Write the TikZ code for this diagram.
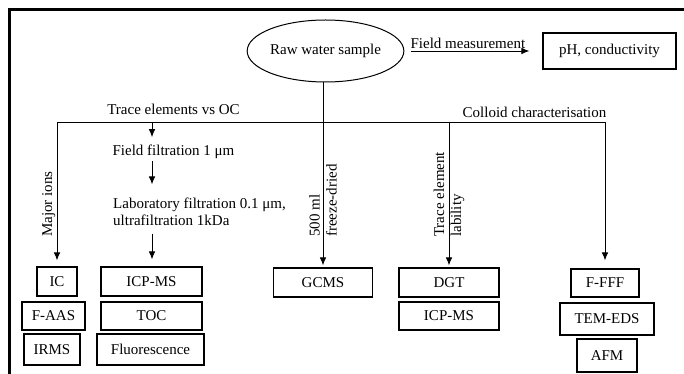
\documentclass[tikz,border=0pt]{standalone}
\usepackage{fontspec}
\setmainfont{Liberation Serif}
\usetikzlibrary{shapes.geometric,arrows.meta}

\begin{document}
\begin{tikzpicture}[x=1pt,y=-1pt,font=\fontsize{15}{17}\selectfont,
  >={Latex[length=8pt,width=6.5pt]},
  box/.style={draw,line width=1.1pt,inner sep=0pt},
  conn/.style={line width=0.9pt},
  vlbl/.style={rotate=90,anchor=west,align=left,inner sep=1pt}]
\useasboundingbox (0,0) rectangle (684,374);
\begin{scope}
\clip (0,0) rectangle (684,374);
\draw[line width=2.6pt] (9.7,9.7) rectangle (700,390);
\end{scope}

% sample and field measurement
\node[ellipse,draw,line width=1pt,minimum width=133pt,minimum height=62pt,inner sep=0pt] (raw) at (325.5,51) {Raw water sample};
\node[box,minimum width=133pt,minimum height=36pt] (ph) at (609.5,51) {pH, conductivity};
\draw[conn,->,shorten <=7pt,shorten >=13pt] (raw) -- node[above,inner sep=1.5pt,pos=0.46] (fm) {Field measurement} (ph);

% distribution bar
\coordinate (bl) at (57,122);
\coordinate (tr) at (152,122);
\coordinate (br) at (605,122);
\draw[conn] (bl) -- (br);
\node[anchor=base] (teoc) at (173.5,115) {Trace elements vs OC};
\node[anchor=base] (colloid) at (534.5,117.5) {Colloid characterisation};

% major ions
\node[box,minimum width=40pt,minimum height=29pt] (ic) at (57,281.5) {IC};
\node[box,minimum width=63pt,minimum height=28pt] (faas) at (53.5,316) {F-AAS};
\node[box,minimum width=56pt,minimum height=31pt] (irms) at (52,349.5) {IRMS};
\draw[conn,->,shorten >=6pt] (bl) -- (ic);
\node[vlbl,anchor=base west,inner sep=0pt] (mi) at (52,237) {Major ions};

% trace elements vs OC
\node[anchor=base,inner sep=2pt] (ff) at (173.5,156) {Field filtration 1 μm};
\node[anchor=west,align=left,inner sep=2pt] (lab) at (111,211.5) {Laboratory filtration 0.1 μm,\\ultrafiltration 1kDa};
\node[box,minimum width=101pt,minimum height=29pt] (icp) at (151.5,281.5) {ICP-MS};
\node[box,minimum width=101pt,minimum height=28pt] (toc) at (151.5,316) {TOC};
\node[box,minimum width=107pt,minimum height=31pt] (fluo) at (150.5,349.5) {Fluorescence};
\draw[conn,->,shorten >=6pt] (tr) -- (tr |- ff.north);
\draw[conn,->,shorten >=11pt] (tr |- ff.south) -- (tr |- lab.north);
\draw[conn,->,shorten <=6pt,shorten >=7pt] (tr |- lab.south) -- (tr |- icp.north);

% organic carbon
\node[box,minimum width=99pt,minimum height=29pt] (gcms) at (323,282.5) {GCMS};
\draw[conn,->,shorten >=2pt] (raw.south -| gcms) -- (gcms);
\node[vlbl] (fd) at (323,238) {500 ml\\freeze-dried};

% lability
\node[box,minimum width=100pt,minimum height=29pt] (dgt) at (449,282.5) {DGT};
\node[box,minimum width=100pt,minimum height=28pt] (icp2) at (449,316) {ICP-MS};
\draw[conn,->,shorten >=2pt] (dgt |- bl) -- (dgt);
\node[vlbl] (lab2) at (449,238) {Trace element\\lability};

% colloids
\node[box,minimum width=68pt,minimum height=28pt] (ffff) at (605,283) {F-FFF};
\node[box,minimum width=94pt,minimum height=32pt] (tem) at (607,319) {TEM-EDS};
\node[box,minimum width=60pt,minimum height=33pt] (afm) at (607,355.5) {AFM};
\draw[conn,->,shorten >=8pt] (br) -- (ffff);

\end{tikzpicture}
\end{document}
